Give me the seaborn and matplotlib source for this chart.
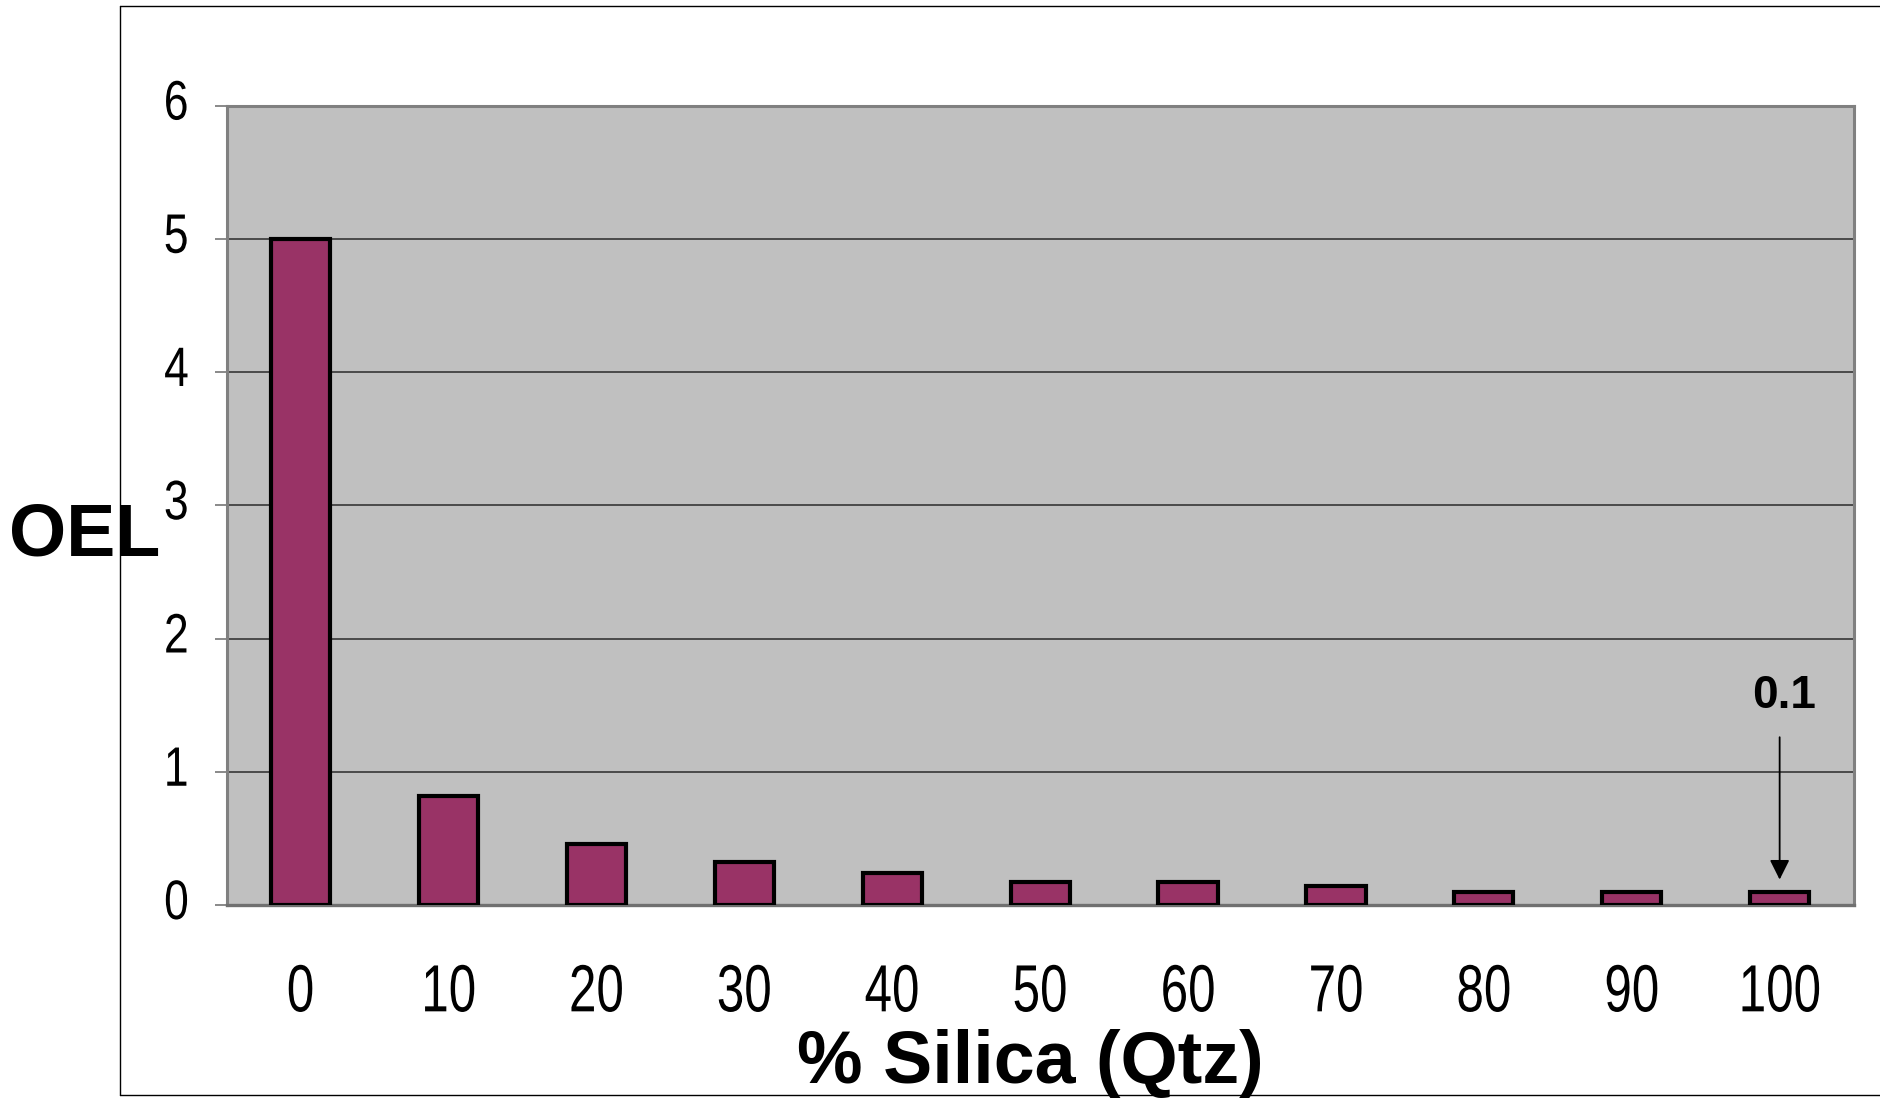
import matplotlib
matplotlib.use("Agg")
import matplotlib.pyplot as plt
import seaborn as sns
import pandas as pd
from matplotlib.lines import Line2D
from matplotlib import font_manager, patheffects
from matplotlib.transforms import Affine2D

silica_pct = ["0", "10", "20", "30", "40", "50", "60", "70", "80", "90", "100"]
oel_values = [5.0, 0.82, 0.46, 0.32, 0.24, 0.17, 0.17, 0.14, 0.10, 0.10, 0.10]
y_ticks = [0, 1, 2, 3, 4, 5, 6]

sns.set_theme(style="white")
names = {f.name for f in font_manager.fontManager.ttflist}
base = "Liberation Sans" if "Liberation Sans" in names else "DejaVu Sans"
plt.rcParams["font.family"] = [base, "DejaVu Sans"]
plt.rcParams["text.color"] = "black"
plt.rcParams["xtick.color"] = "black"
plt.rcParams["ytick.color"] = "black"


class Condense(patheffects.AbstractPathEffect):
    """Draw text glyphs horizontally condensed (like Arial Narrow)."""

    def __init__(self, sx=0.82, anchor="center"):
        super().__init__()
        self.sx = sx
        self.anchor = anchor

    def draw_path(self, renderer, gc, tpath, affine, rgbFace=None):
        ext = tpath.get_extents()
        x0 = (ext.x0 + ext.x1) / 2 if self.anchor == "center" else ext.x1
        t = Affine2D().translate(-x0, 0).scale(self.sx, 1).translate(x0, 0)
        renderer.draw_path(gc, tpath, t + affine, rgbFace)


W, H = 1880, 1103
fig = plt.figure(figsize=(W / 100, H / 100), dpi=100)
left, right, top, bottom = 226.6, 1853.6, 105.5, 905.0
ax = fig.add_axes([left / W, 1 - bottom / H, (right - left) / W, (bottom - top) / H])
ax.set_facecolor("#C0C0C0")

df = pd.DataFrame({"silica": silica_pct, "oel": oel_values})
sns.barplot(data=df, x="silica", y="oel", color="#993366", width=0.4,
            edgecolor="black", linewidth=3.0, saturation=1, ax=ax, zorder=3)

ax.set_xlim(-0.5, len(silica_pct) - 0.5)
ax.set_ylim(0, 6)
ax.set_yticks(y_ticks)
ax.set_yticklabels([str(v) for v in y_ticks], fontsize=40)
ax.yaxis.grid(True, color="#2a2a2a", linewidth=1.1, zorder=1)
ax.set_axisbelow(True)

# x tick labels at categories, tick marks at boundaries
ax.set_xticks(range(len(silica_pct)))
ax.set_xticklabels(silica_pct, fontsize=48)
ax.set_xticks([i - 0.5 for i in range(len(silica_pct) + 1)], minor=True)
ax.tick_params(axis="x", which="major", length=0, pad=42, colors="black")
ax.tick_params(axis="x", which="minor", length=13, width=1.0, color="black", direction="out")
ax.tick_params(axis="y", which="major", length=9, width=1.3, color="#808080",
               direction="out", pad=18, labelcolor="black", left=True)

for t in ax.get_xticklabels():
    t.set_path_effects([Condense(0.74, "center")])
for t in ax.get_yticklabels():
    t.set_path_effects([Condense(0.80, "right")])
    t.set_verticalalignment("center")

for side in ["top", "left", "right"]:
    ax.spines[side].set_color("#808080")
    ax.spines[side].set_linewidth(2.2)
ax.spines["bottom"].set_color("#707070")
ax.spines["bottom"].set_linewidth(2.4)
ax.set_xlabel("")
ax.set_ylabel("")

# annotation for last bar
ax.annotate("", xy=(10, 0.17), xytext=(10, 1.28),
            arrowprops=dict(arrowstyle="-|>", color="black", lw=1.3, mutation_scale=30),
            zorder=5)
ax.text(10.03, 1.57, "0.1", ha="center", va="center", fontsize=33,
        fontweight="bold", zorder=5)

# axis titles
fig.text(85 / W, 1 - 536 / H, "OEL", ha="center", va="center", fontsize=53,
         fontweight="bold")
fig.text(1030 / W, 1 - 1064 / H, "% Silica (Qtz)", ha="center", va="center",
         fontsize=53, fontweight="bold", zorder=10)

# outer frame
fx0, fy0, fy1 = 120 / W, 1 - 6 / H, 1 - 1095 / H
for xs, ys in [([fx0, fx0], [fy0, fy1]), ([fx0, 1.0], [fy0, fy0]), ([fx0, 1.0], [fy1, fy1])]:
    fig.add_artist(Line2D(xs, ys, color="black", linewidth=1.0, transform=fig.transFigure))

fig.savefig("out.png", dpi=100, facecolor="white")
